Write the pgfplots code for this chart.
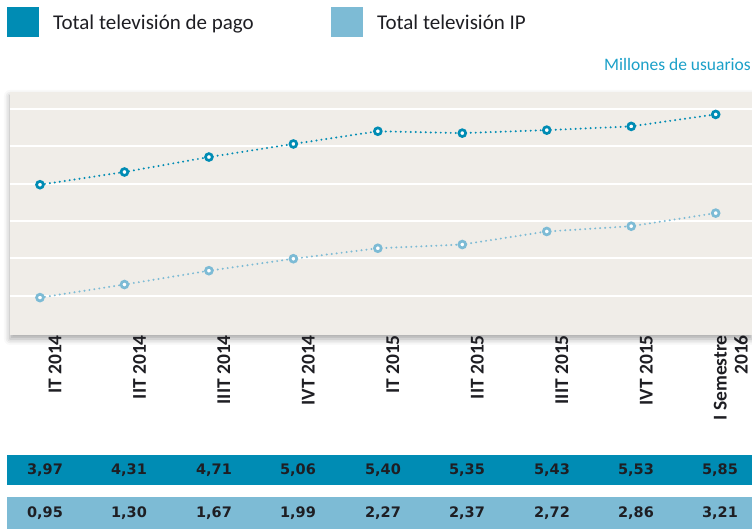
\documentclass[border=0pt]{standalone}
\usepackage{pgfplots}
\pgfplotsset{compat=1.18}
\usepackage{fontspec}
\setmainfont{Carlito}
\newfontfamily\numfont{DejaVu Sans}
\usetikzlibrary{shadows.blur}
\definecolor{dark}{RGB}{0,140,180}
\definecolor{light}{RGB}{125,187,213}
\definecolor{bg}{RGB}{240,237,232}
\definecolor{txt}{RGB}{30,30,35}
\definecolor{unit}{RGB}{27,160,200}
\begin{document}
\begin{tikzpicture}[x=1pt,y=1pt]
\path[use as bounding box] (0,0) rectangle (752,529);
% legend
\fill[dark] (7,492) rectangle (39,522);
\node[anchor=base west, inner sep=0pt, font=\fontsize{21}{24}\selectfont, text=txt] at (53,499) {Total televisión de pago};
\fill[light] (331,492) rectangle (363,522);
\node[anchor=base west, inner sep=0pt, font=\fontsize{21}{24}\selectfont, text=txt] at (377,499) {Total televisión IP};
\node[anchor=base east, inner sep=0pt, font=\fontsize{17.5}{20}\selectfont, text=unit] at (751,458) {Millones de usuarios};
\begin{axis}[
  at={(10pt,194pt)}, anchor=south west,
  scale only axis, width=742pt, height=243pt,
  xmin=-0.355, xmax=8.43, ymin=-0.05, ymax=6.45,
  axis line style={draw=none},
  axis background/.style={fill=bg, blur shadow={shadow xshift=0pt, shadow yshift=-4pt, shadow blur radius=6pt, shadow opacity=35}},
  ytick={1,2,3,4,5,6}, yticklabels={}, ymajorgrids,
  grid style={white, line width=2pt},
  major tick length=0pt,
  xtick={0,...,8},
  xticklabels={IT 2014, IIT 2014, IIIT 2014, IVT 2014, IT 2015, IIT 2015, IIIT 2015, IVT 2015, {I Semestre\\2016}},
  xticklabel style={rotate=90, anchor=east, inner sep=0pt, yshift=-15pt, align=right,
    font=\fontsize{19.5}{21}\selectfont\bfseries, text=txt},
  clip=false,
]
\addplot[dark, line width=2.2pt, dash pattern=on 0pt off 5pt, line cap=round,
  mark=*, mark size=3.4pt, mark options={draw=dark, fill=white, line width=2.7pt, solid}]
  coordinates {(0,3.97) (1,4.31) (2,4.71) (3,5.06) (4,5.40) (5,5.35) (6,5.43) (7,5.53) (8,5.85)};
\addplot[light, line width=2.2pt, dash pattern=on 0pt off 5pt, line cap=round,
  mark=*, mark size=3.4pt, mark options={draw=light, fill=white, line width=2.7pt, solid}]
  coordinates {(0,0.95) (1,1.30) (2,1.67) (3,1.99) (4,2.27) (5,2.37) (6,2.72) (7,2.86) (8,3.21)};
\end{axis}
% data table
\fill[dark] (7,44) rectangle (752,74);
\fill[light] (7,0) rectangle (752,32);
\tikzset{num/.style={anchor=center, inner sep=0pt, font=\numfont\bfseries\fontsize{14.5}{16}\selectfont, text=txt}}
\node[num] at (45,59) {3,97};
\node[num] at (129,59) {4,31};
\node[num] at (214,59) {4,71};
\node[num] at (298,59) {5,06};
\node[num] at (383,59) {5,40};
\node[num] at (467,59) {5,35};
\node[num] at (552,59) {5,43};
\node[num] at (636,59) {5,53};
\node[num] at (720,59) {5,85};
\node[num] at (45,16) {0,95};
\node[num] at (129,16) {1,30};
\node[num] at (214,16) {1,67};
\node[num] at (298,16) {1,99};
\node[num] at (383,16) {2,27};
\node[num] at (467,16) {2,37};
\node[num] at (552,16) {2,72};
\node[num] at (636,16) {2,86};
\node[num] at (720,16) {3,21};
\end{tikzpicture}
\end{document}
